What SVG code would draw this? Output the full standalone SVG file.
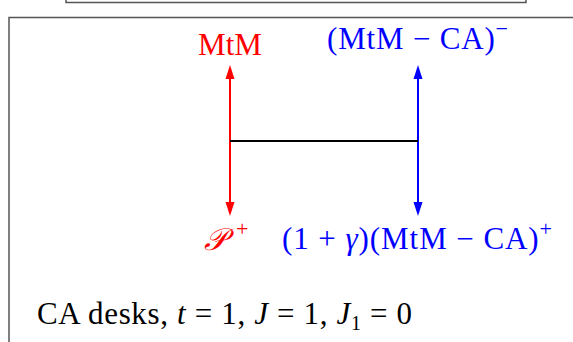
<svg xmlns="http://www.w3.org/2000/svg" width="573" height="342" viewBox="0 0 573 342">
<defs>
<style>
.t{font-family:"Liberation Serif","Times New Roman",serif;font-size:31px}
.red{fill:#ff0000}
.blue{fill:#0000ff}
.blk{fill:#000}
.it{font-style:italic}
.frame{fill:none;stroke:#555;stroke-width:1.5}
.sup{font-size:22px}
</style>
</defs>
<g id="frames">
<path class="frame" d="M66,0 V2.5 H526 V0"/>
<path class="frame" d="M9,342 V17.5 H573"/>
</g>
<g id="connectors">
<line x1="230" y1="141" x2="230" y2="74" stroke="#ff0000" stroke-width="2"/>
<line x1="230" y1="141" x2="230" y2="206" stroke="#ff0000" stroke-width="2"/>
<line x1="418" y1="141" x2="418" y2="74" stroke="#0000ff" stroke-width="2"/>
<line x1="418" y1="141" x2="418" y2="206" stroke="#0000ff" stroke-width="2"/>
<polygon points="230,65 234.5,79 225.5,79" fill="#ff0000"/>
<polygon points="230,216 234.5,202 225.5,202" fill="#ff0000"/>
<polygon points="418,65 422.5,79 413.5,79" fill="#0000ff"/>
<polygon points="418,216 422.5,202 413.5,202" fill="#0000ff"/>
<line x1="230" y1="141" x2="418" y2="141" stroke="#000" stroke-width="2"/>
</g>
<g id="n-mtm"><text class="t red" x="198" y="55" textLength="64" lengthAdjust="spacingAndGlyphs">MtM</text></g>
<g id="n-mtmca-minus"><text class="t blue" x="327" y="49" textLength="181" lengthAdjust="spacing">(MtM − CA)<tspan class="sup" dy="-13">−</tspan></text></g>
<g id="n-p-plus"><text class="t red it" x="204" y="250" font-size="29">𝒫</text><text class="t red sup" x="236" y="236" font-size="24">+</text></g>
<g id="n-gamma"><text class="t blue" x="282" y="249" textLength="270" lengthAdjust="spacing">(1 + <tspan class="it">γ</tspan>)(MtM − CA)<tspan class="sup" dy="-13" font-size="24">+</tspan></text></g>
<g id="caption"><text class="t blk" x="37" y="324" font-size="30" textLength="375" lengthAdjust="spacing">CA desks, <tspan class="it">t</tspan> = 1, <tspan class="it">J</tspan> = 1, <tspan class="it">J</tspan><tspan dy="6" font-size="20">1</tspan><tspan dy="-6"> = 0</tspan></text></g>
</svg>
